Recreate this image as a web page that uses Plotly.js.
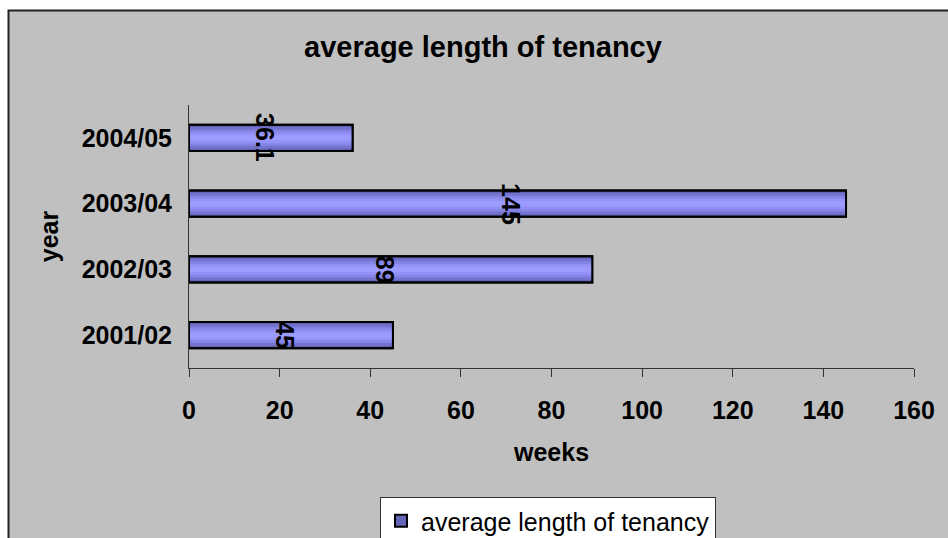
<!DOCTYPE html>
<html>
<head>
<meta charset="utf-8">
<script src="https://cdn.plot.ly/plotly-3.0.1.min.js"></script>
<style>
  html, body { margin: 0; padding: 0; background: #ffffff; }
  #chart { width: 948px; height: 538px; }
</style>
</head>
<body>
<div id="chart"></div>
<script>
// ---- data ----
const categories = ["2001/02", "2002/03", "2003/04", "2004/05"];
const weeks = [45, 89, 145, 36.1];
const valueLabels = ["45", "89", "145", "36.1"];
const seriesName = "average length of tenancy";
const chartTitle = "average length of tenancy";
const xTitle = "weeks";
const yTitle = "year";
const xTickVals = [0, 20, 40, 60, 80, 100, 120, 140, 160];

const FONT = "Liberation Sans, Arial, Helvetica, sans-serif";

// gradient simulation: overlay layers of shrinking thickness
const layers = [
  { w: 0.40, c: "#6464b8" },
  { w: 0.32, c: "#7474d0" },
  { w: 0.24, c: "#8585e6" },
  { w: 0.16, c: "#9292f6" },
  { w: 0.08, c: "#9c9cff" }
];

const traces = layers.map((L, i) => ({
  type: "bar",
  orientation: "h",
  y: categories,
  x: weeks,
  width: L.w,
  name: seriesName,
  showlegend: i === 0,
  hoverinfo: "skip",
  marker: i === 0
    ? { color: L.c, line: { color: "#000000", width: 2 } }
    : { color: L.c, line: { width: 0 } }
}));

// outline layer on top
traces.push({
  type: "bar",
  orientation: "h",
  y: categories,
  x: weeks,
  width: 0.4,
  name: seriesName,
  showlegend: false,
  hoverinfo: "skip",
  marker: { color: "rgba(0,0,0,0)", line: { color: "#000000", width: 2 } }
});

const annotations = categories.map((c, i) => ({
  x: weeks[i] / 2,
  y: c,
  xref: "x",
  yref: "y",
  text: valueLabels[i],
  showarrow: false,
  textangle: 90,
  xshift: -6,
  font: { family: FONT, size: 25, color: "#000000", weight: "bold" }
}));

const plotL = 189, plotR = 914, plotT = 105, plotB = 368;
const W = 948, H = 538;
const pw = plotR - plotL, ph = plotB - plotT;
const px = v => (v - plotL) / pw;
const py = v => (plotB - v) / ph;

const layout = {
  width: W,
  height: H,
  margin: { l: plotL, r: W - plotR, t: plotT, b: H - plotB, pad: 0, autoexpand: false },
  paper_bgcolor: "#ffffff",
  plot_bgcolor: "rgba(0,0,0,0)",
  barmode: "overlay",
  font: { family: FONT, color: "#000000" },
  title: {
    text: chartTitle,
    x: 483 / W,
    xanchor: "center",
    y: 1 - 47 / H,
    yanchor: "middle",
    font: { family: FONT, size: 29, weight: "bold", color: "#000000" }
  },
  xaxis: {
    range: [0, 160],
    tickvals: xTickVals,
    ticks: "outside",
    ticklen: 8,
    tickwidth: 1,
    tickcolor: "#333333",
    showline: true,
    linecolor: "#333333",
    linewidth: 1,
    showgrid: false,
    zeroline: false,
    automargin: false,
    ticklabelstandoff: 12,
    tickfont: { family: FONT, size: 25, weight: "bold", color: "#000000" },
    title: {
      text: xTitle,
      standoff: 20,
      font: { family: FONT, size: 25, weight: "bold", color: "#000000" }
    },
    fixedrange: true
  },
  yaxis: {
    type: "category",
    ticks: "",
    showline: true,
    linecolor: "#333333",
    linewidth: 1,
    showgrid: false,
    zeroline: false,
    automargin: false,
    ticklabelstandoff: 11,
    tickfont: { family: FONT, size: 25, weight: "bold", color: "#000000" },
    title: {
      text: yTitle,
      standoff: 15,
      font: { family: FONT, size: 25, weight: "bold", color: "#000000" }
    },
    fixedrange: true
  },
  legend: {
    x: px(548),
    xanchor: "center",
    y: py(497),
    yanchor: "top",
    orientation: "h",
    bgcolor: "#ffffff",
    bordercolor: "#333333",
    borderwidth: 1,
    font: { family: FONT, size: 25, color: "#000000" },
    itemwidth: 30
  },
  shapes: [
    {
      type: "rect",
      xref: "paper",
      yref: "paper",
      x0: px(8.5),
      x1: px(980),
      y0: py(600),
      y1: py(10.5),
      layer: "below",
      fillcolor: "#c0c0c0",
      line: { color: "#222222", width: 2 }
    }
  ],
  annotations: annotations,
  showlegend: true
};

Plotly.newPlot("chart", traces, layout, { displayModeBar: false, staticPlot: true });
</script>
</body>
</html>
